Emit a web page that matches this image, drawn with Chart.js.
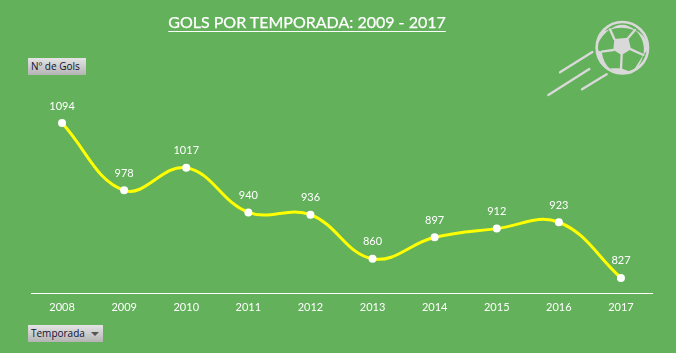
<!DOCTYPE html>
<html>
<head>
<meta charset="utf-8">
<script src="https://cdn.jsdelivr.net/npm/chart.js@4"></script>
<style>
    body { margin: 0; background: #63b15a; }
    #wrap { position: relative; width: 676px; height: 353px; overflow: hidden; background: #63b15a; }
    #title { position: absolute; left: 0; top: 12px; width: 614px; text-align: center; color: #fff; font: 16px Lato, sans-serif; -webkit-text-stroke: 0.25px #fff; text-decoration: underline; text-underline-offset: 3px; white-space: nowrap; }
    .btn { position: absolute; left: 28px; height: 17px; background: linear-gradient(#e4e4e4, #b4b4b4); color: #101030; font: 10px "Open Sans", sans-serif; line-height: 17px; padding-left: 3px; box-sizing: border-box; }
    #btnY { top: 58px; width: 58px; }
    #btnX { top: 325px; width: 75px; }
    #arrow { position: absolute; left: 63px; top: 7px; width: 0; height: 0; border-left: 4px solid transparent; border-right: 4px solid transparent; border-top: 4px solid #555; }
    #ball { position: absolute; left: 520px; top: 0; }
    canvas { position: absolute; left: 0; top: 0; }
</style>
</head>
<body>
<div id="wrap">
    <canvas id="golsChart" width="676" height="353"></canvas>
    <div id="title">GOLS POR TEMPORADA: 2009 - 2017</div>
    <div class="btn" id="btnY">Nº de Gols</div>
    <div class="btn" id="btnX">Temporada<span id="arrow"></span></div>
    <svg id="ball" width="156" height="120" viewBox="0 0 468 360">
        <g stroke="#d9d9d9" fill="none" stroke-linecap="round">
            <path d="M120 217L217 156M85 285L208 207M186 268L260 223" stroke-width="7"/>
            <circle cx="307" cy="143" r="77" stroke-width="8"/>
            <path d="M283 117L270 88M325 113L345 90M333 148L370 165M305 165L303 205M280 150L245 155" stroke-width="7"/>
        </g>
        <g fill="#d9d9d9">
            <path d="M283 117L325 113L333 148L305 165L280 150Z"/>
            <path d="M268 90Q307 58 347 92Q307 76 268 90Z"/>
            <path d="M345 90Q385 110 383 150L370 165Q378 120 345 90Z"/>
            <path d="M370 165Q362 200 335 217L303 205L270 205Q300 228 335 220Z"/>
            <path d="M245 155Q250 190 270 205Q235 190 230 150Z"/>
            <path d="M270 88L245 95Q232 120 232 135Q245 105 270 88Z"/>
        </g>
    </svg>
</div>
<script>
const years = ["2008", "2009", "2010", "2011", "2012", "2013", "2014", "2015", "2016", "2017"];
const gols = [1094, 978, 1017, 940, 936, 860, 897, 912, 923, 827];

// value labels above each point
const valueLabels = {
    id: 'valueLabels',
    afterDatasetsDraw(chart) {
        const ctx = chart.ctx;
        const points = chart.getDatasetMeta(0).data;
        ctx.save();
        ctx.fillStyle = '#fff';
        ctx.font = '11px Lato';
        ctx.textAlign = 'center';
        ctx.textBaseline = 'middle';
        points.forEach((p, i) => ctx.fillText(gols[i], p.x, p.y - 17));
        ctx.restore();
    }
};

const ctxGols = document.getElementById('golsChart').getContext('2d');
const golsChart = new Chart(ctxGols, {
    type: 'line',
    data: {
        labels: years,
        datasets: [{
            data: gols,
            borderColor: '#ffff00',
            borderWidth: 3,
            tension: 0.4,
            pointRadius: 4,
            pointBackgroundColor: '#fff',
            pointBorderColor: '#fff',
            pointBorderWidth: 0,
        }]
    },
    options: {
        responsive: false,
        animation: false,
        layout: {
            padding: { left: 31, right: 24, top: 61, bottom: 0 },
        },
        scales: {
            x: {
                offset: true,
                grid: { display: false },
                border: { color: '#fff', width: 1 },
                ticks: { color: '#fff', font: { family: 'Lato', size: 11 }, padding: 0, maxRotation: 0 },
                afterFit: (scale) => { scale.height = 60; },
            },
            y: {
                display: false,
                min: 801,
                max: 1201,
            }
        },
        plugins: {
            legend: { display: false },
            tooltip: { enabled: false },
        }
    },
    plugins: [valueLabels],
});
</script>
</body>
</html>
